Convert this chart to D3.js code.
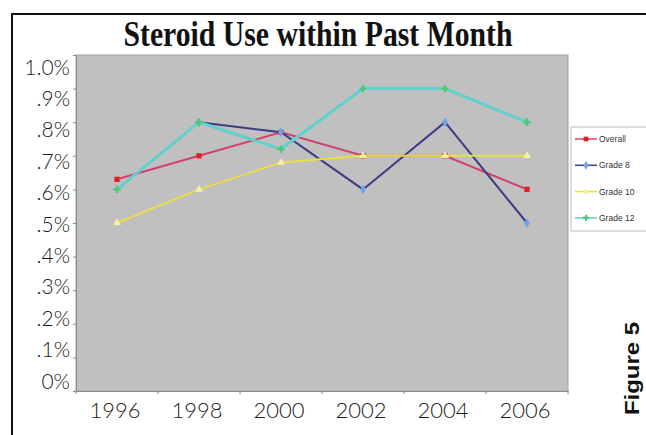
<!DOCTYPE html>
<html>
<head>
<meta charset="utf-8">
<script src="https://cdn.jsdelivr.net/npm/d3@7"></script>
<style>
  body { margin: 0; background: #fff; }
  svg { display: block; }
</style>
</head>
<body>
<svg id="chart" width="646" height="435"></svg>
<script>
// data (percent)
const years = ['1996', '1998', '2000', '2002', '2004', '2006'];
const overall = [0.63, 0.70, 0.77, 0.70, 0.70, 0.60];
const grade8 = [null, 0.80, 0.77, 0.60, 0.80, 0.50];
const grade10 = [0.50, 0.60, 0.68, 0.70, 0.70, 0.70];
const grade12 = [0.60, 0.80, 0.72, 0.90, 0.90, 0.80];
const yTicks = [0, 0.1, 0.2, 0.3, 0.4, 0.5, 0.6, 0.7, 0.8, 0.9, 1.0];
const yLabels = ['0%', '.1%', '.2%', '.3%', '.4%', '.5%', '.6%', '.7%', '.8%', '.9%', '1.0%'];

const series = [
    {name: 'Overall', values: overall, line: '#d4406c', mark: '#e0202c', shape: d3.symbolSquare, width: 2},
    {name: 'Grade 8', values: grade8, line: '#3c3c84', mark: '#70a4e8', shape: d3.symbolDiamond, width: 2},
    {name: 'Grade 10', values: grade10, line: '#e6de48', mark: '#f6f0a8', shape: d3.symbolTriangle, width: 2},
    {name: 'Grade 12', values: grade12, line: '#62d0cc', mark: '#4cc878', shape: d3.symbolCross, width: 3}
];

const svg = d3.select('#chart');
const plot = {left: 76, top: 55, right: 568, bottom: 391};
const axisFont = 'Lato, "DejaVu Sans", sans-serif';

// frame
svg.append('path')
    .attr('d', 'M12,435 V14 H646')
    .attr('fill', 'none')
    .attr('stroke', '#111')
    .attr('stroke-width', 2);

svg.append('text')
    .attr('x', 318)
    .attr('y', 46)
    .attr('text-anchor', 'middle')
    .attr('font-family', '"Liberation Serif", "Times New Roman", serif')
    .attr('font-weight', 'bold')
    .attr('font-size', 35)
    .attr('textLength', 389)
    .attr('lengthAdjust', 'spacingAndGlyphs')
    .attr('fill', '#111')
    .text('Steroid Use within Past Month');

const x = d3.scaleBand().domain(years).range([plot.left, plot.right]);
const y = d3.scaleLinear().domain([0, 1]).range([plot.bottom, plot.top]);
// the tick labels sit a little closer together than the ticks
const yLab = d3.scaleLinear().domain([0, 1]).range([381, 67]);

svg.append('rect')
    .attr('x', plot.left)
    .attr('y', plot.top)
    .attr('width', plot.right - plot.left)
    .attr('height', plot.bottom - plot.top)
    .attr('fill', '#c0c0c0')
    .attr('stroke', '#a4a4a4')
    .attr('stroke-width', 1);

const yAxis = svg.append('g')
    .attr('transform', 'translate(' + plot.left + ',0)')
    .call(d3.axisLeft(y).tickValues(yTicks).tickSize(3).tickFormat(''));
const xAxis = svg.append('g')
    .attr('transform', 'translate(0,' + plot.bottom + ')')
    .call(d3.axisBottom(x).tickSize(0).tickFormat(''));
xAxis.selectAll('.bt')
    .data(d3.range(years.length + 1))
    .enter()
    .append('line')
    .attr('x1', (i) => plot.left + i * x.step())
    .attr('x2', (i) => plot.left + i * x.step())
    .attr('y1', 0)
    .attr('y2', 3);
[yAxis, xAxis].forEach((g) => {
    g.selectAll('path, line').attr('stroke', '#8c8c8c');
});

svg.append('g').selectAll('text')
    .data(yTicks)
    .enter()
    .append('text')
    .attr('x', 70)
    .attr('y', (d) => yLab(d))
    .attr('dy', '0.36em')
    .attr('text-anchor', 'end')
    .attr('font-family', axisFont)
    .attr('font-weight', 300)
    .attr('font-size', 21)
    .attr('fill', '#1c1c1c')
    .text((d, i) => yLabels[i]);

svg.append('g').selectAll('text')
    .data(years)
    .enter()
    .append('text')
    .attr('x', (d) => x(d) + x.bandwidth() / 2 - 2)
    .attr('y', 418)
    .attr('text-anchor', 'middle')
    .attr('font-family', axisFont)
    .attr('font-weight', 300)
    .attr('font-size', 22)
    .attr('fill', '#1c1c1c')
    .text((d) => d);

const cx = (d, i) => x(years[i]) + x.bandwidth() / 2;
const line = d3.line()
    .defined((d) => d !== null)
    .x(cx)
    .y((d) => y(d));

series.forEach((s) => {
    svg.append('path')
        .datum(s.values)
        .attr('fill', 'none')
        .attr('stroke', s.line)
        .attr('stroke-width', s.width)
        .attr('d', line);
    svg.append('g').selectAll('path')
        .data(s.values.map((v, i) => ({v: v, i: i})).filter((p) => p.v !== null))
        .enter()
        .append('path')
        .attr('transform', (p) => 'translate(' + cx(p.v, p.i) + ',' + y(p.v) + ')')
        .attr('d', d3.symbol().type(s.shape).size(s.shape === d3.symbolCross ? 30 : 28))
        .attr('fill', s.mark);
});

// legend
const legend = svg.append('g');
legend.append('rect')
    .attr('x', 571)
    .attr('y', 127)
    .attr('width', 80)
    .attr('height', 104)
    .attr('fill', '#fff')
    .attr('stroke', '#bbb');
const item = legend.selectAll('g.item')
    .data(series)
    .enter()
    .append('g')
    .attr('transform', (s, i) => 'translate(575,' + (139 + i * 26.3) + ')');
item.append('line')
    .attr('x1', 0).attr('x2', 22)
    .attr('stroke', (s) => s.line)
    .attr('stroke-width', 1.5);
item.append('path')
    .attr('transform', 'translate(11,0)')
    .attr('d', (s) => d3.symbol().type(s.shape).size(22)())
    .attr('fill', (s) => s.mark);
item.append('text')
    .attr('x', 24)
    .attr('dy', '0.35em')
    .attr('font-family', '"Liberation Sans", Arial, sans-serif')
    .attr('font-size', 8.5)
    .attr('fill', '#333')
    .text((s) => s.name);

svg.append('text')
    .attr('transform', 'translate(639,415) rotate(-90)')
    .attr('font-family', '"Liberation Sans", Arial, sans-serif')
    .attr('font-weight', 'bold')
    .attr('font-size', 21)
    .attr('textLength', 93)
    .attr('lengthAdjust', 'spacingAndGlyphs')
    .attr('fill', '#111')
    .text('Figure 5');
</script>
</body>
</html>
